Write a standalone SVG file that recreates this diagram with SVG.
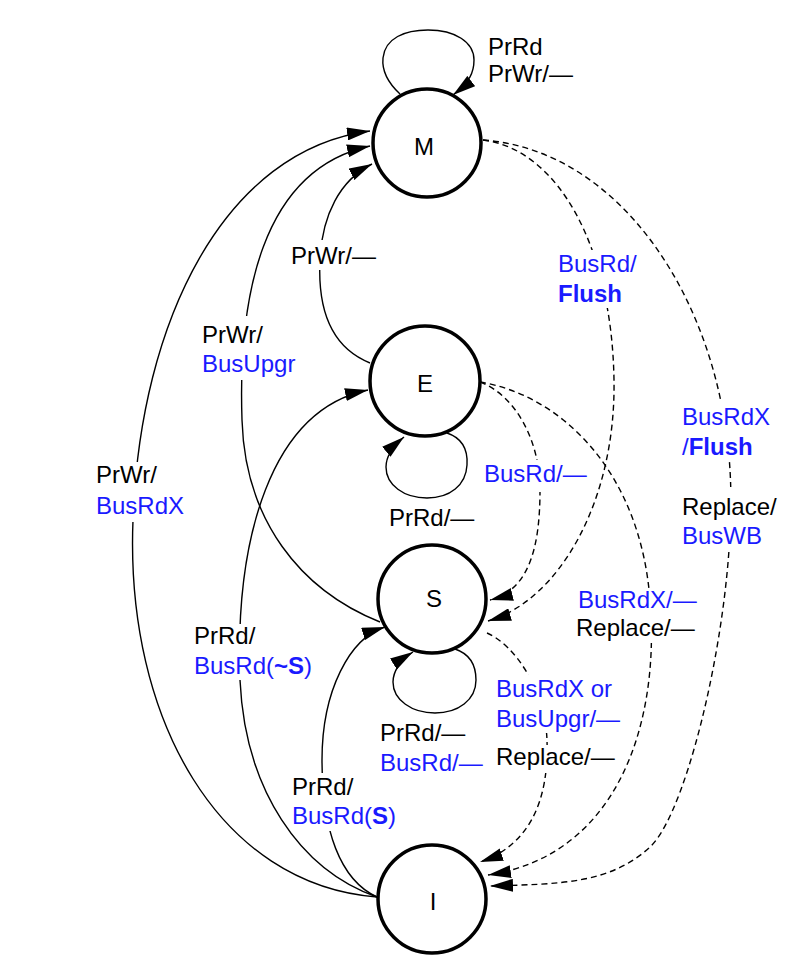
<svg xmlns="http://www.w3.org/2000/svg" width="806" height="972" viewBox="0 0 806 972">
<defs>
<marker id="ah" markerUnits="userSpaceOnUse" markerWidth="23" markerHeight="13" refX="23" refY="6.5" orient="auto" viewBox="0 0 23 13"><path d="M0,0 L23,6.5 L0,13 z" fill="#000" stroke="none"/></marker>
<style>
.st{fill:#fff;stroke:#000;stroke-width:3.5}
.nl{font-family:"Liberation Sans",Arial,sans-serif;font-size:24px;fill:#000;text-anchor:middle}
.c{fill:none;stroke:#000;stroke-width:1.4;marker-end:url(#ah)}
.d{stroke-dasharray:6 4}
.t{font-family:"Liberation Sans",Arial,sans-serif;font-size:24px;fill:#000}
.b{fill:#1a1aff}
.bf{font-weight:bold}
.bg{fill:#fff;stroke:none}
</style>
</defs>
<rect width="806" height="972" fill="#fff"/>
<g id="connectors">
<path class="c" d="M400 94 C385 80 382 68 383 58 C385 38 405 30 428 30 C455 30 474 42 474 60 C474 72 470 82 453 95"/>
<path class="c" d="M377 897 C220 885 125 720 133 520 C140 320 225 150 370 131"/>
<path class="c" d="M380 622 C300 590 245 520 242 420 C238 300 260 170 370 146"/>
<path class="c" d="M370 363 C325 345 318 300 320 260 C322 215 340 180 372 164"/>
<path class="c" d="M377 897 C300 870 245 790 240 680 C235 540 270 410 368 390"/>
<path class="c" d="M377 897 C340 880 322 830 322 760 C322 690 350 638 385 627"/>
<path class="c" d="M447 433 C462 438 468 450 467 465 C466 485 450 498 427 498 C404 498 386 485 386 467 C386 457 392 447 404 437"/>
<path class="c" d="M455 649 C470 654 476 666 476 680 C476 700 458 713 435 713 C412 713 393 700 393 682 C393 672 400 660 413 652"/>
<path class="c d" d="M483 140 C560 150 612 250 614 380 C616 500 560 600 488 621"/>
<path class="c d" d="M483 140 C620 150 720 300 730 470 C738 600 690 810 650 847 C610 884 560 884 490 886"/>
<path class="c d" d="M480 382 C515 395 540 440 540 490 C540 545 530 590 490 600"/>
<path class="c d" d="M480 382 C560 395 640 470 650 600 C660 720 620 855 488 875"/>
<path class="c d" d="M487 633 C515 645 545 690 547 740 C549 800 530 845 480 862"/>
</g>
<g id="node-M"><circle class="st" cx="427" cy="143" r="54"/><text class="nl" x="424" y="155">M</text></g>
<g id="node-E"><circle class="st" cx="425" cy="381" r="55"/><text class="nl" x="425" y="392">E</text></g>
<g id="node-S"><circle class="st" cx="432" cy="599" r="54"/><text class="nl" x="434" y="607">S</text></g>
<g id="node-I"><circle class="st" cx="432" cy="899" r="54"/><text class="nl" x="433" y="910">I</text></g>
<g id="labels">
<text class="t" x="488" y="55">PrRd</text>
<text class="t" x="488" y="82">PrWr/—</text>
<rect class="bg" x="290" y="240" width="92" height="30"/>
<text class="t" x="291" y="264">PrWr/—</text>
<rect class="bg" x="200" y="316" width="100" height="64"/>
<text class="t" x="202" y="343">PrWr/</text>
<text class="t b" x="202" y="372">BusUpgr</text>
<rect class="bg" x="94" y="462" width="95" height="60"/>
<text class="t" x="96" y="483">PrWr/</text>
<text class="t b" x="96" y="514">BusRdX</text>
<rect class="bg" x="556" y="250" width="82" height="58"/>
<text class="t b" x="558" y="272">BusRd/</text>
<text class="t b bf" x="558" y="302">Flush</text>
<rect class="bg" x="680" y="402" width="95" height="60"/>
<text class="t b" x="682" y="425">BusRdX</text>
<text class="t b" x="682" y="455">/<tspan class="bf">Flush</tspan></text>
<rect class="bg" x="680" y="487" width="100" height="63"/>
<text class="t" x="682" y="515">Replace/</text>
<text class="t b" x="682" y="544">BusWB</text>
<rect class="bg" x="482" y="460" width="110" height="32"/>
<text class="t b" x="484" y="482">BusRd/—</text>
<text class="t" x="389" y="526">PrRd/—</text>
<rect class="bg" x="576" y="588" width="125" height="55"/>
<text class="t b" x="578" y="608">BusRdX/—</text>
<text class="t" x="576" y="636">Replace/—</text>
<rect class="bg" x="192" y="624" width="128" height="56"/>
<text class="t" x="194" y="644">PrRd/</text>
<text class="t b" x="194" y="674">BusRd(<tspan class="bf">~S</tspan>)</text>
<rect class="bg" x="494" y="675" width="128" height="58"/>
<text class="t b" x="496" y="697">BusRdX or</text>
<text class="t b" x="496" y="727">BusUpgr/—</text>
<rect class="bg" x="494" y="745" width="118" height="28"/>
<text class="t" x="496" y="765">Replace/—</text>
<text class="t" x="380" y="741">PrRd/—</text>
<text class="t b" x="380" y="771">BusRd/—</text>
<rect class="bg" x="291" y="773" width="108" height="58"/>
<text class="t" x="292" y="795">PrRd/</text>
<text class="t b" x="292" y="824">BusRd(<tspan class="bf">S</tspan>)</text>
</g>
</svg>
